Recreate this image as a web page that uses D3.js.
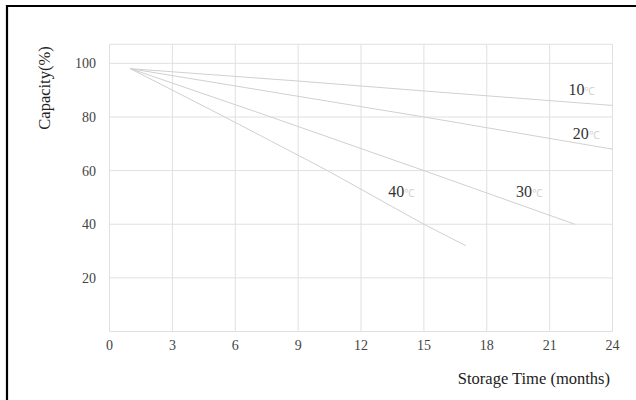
<!DOCTYPE html>
<html><head><meta charset="utf-8">
<script src="https://cdn.jsdelivr.net/npm/d3@7"></script>
<style>body{margin:0;background:#fff}svg{display:block}</style>
</head><body>
<svg id="c" width="636" height="400"></svg>
<script>
const xTicks = [0,3,6,9,12,15,18,21,24];
const yTicks = [20,40,60,80,100];
const seriesNames = ["10","20","30","40"];
const s10 = [[1,98],[9,93.4],[15,89.7],[24,84.3]];
const s20 = [[1,98],[15,80],[24,68]];
const s30 = [[1,98],[7.7,80],[15,60],[22.2,40]];
const s40 = [[1,98],[5.5,80],[10.4,60],[15,40],[17,32]];
const labelPos = [[21.9,88.3],[22.1,71.8],[19.4,50.1],[13.3,50.1]];

const svg = d3.select("#c");
const font = "'Liberation Serif','Times New Roman',serif";
const x = d3.scaleLinear().domain([0,24]).range([109.5,612.5]);
const y = d3.scaleLinear().domain([0,107.1]).range([331.5,44.3]);

// frame
svg.append("line").attr("x1",6).attr("x2",636).attr("y1",6).attr("y2",6).attr("stroke","#000").attr("stroke-width",2.2);
svg.append("line").attr("x1",7).attr("x2",7).attr("y1",5).attr("y2",400).attr("stroke","#000").attr("stroke-width",2.2);

const grid = svg.append("g").attr("stroke","#e0e0e0").attr("stroke-width",1);
xTicks.forEach(t=>grid.append("line").attr("x1",x(t)).attr("x2",x(t)).attr("y1",y(107.1)).attr("y2",y(0)));
[0].concat(yTicks).concat([107.1]).forEach(t=>grid.append("line").attr("x1",x(0)).attr("x2",x(24)).attr("y1",y(t)).attr("y2",y(t)));

const line = d3.line().x(d=>x(d[0])).y(d=>y(d[1]));
[s10,s20,s30,s40].forEach(s=>{
  svg.append("path").datum(s).attr("d",line).attr("fill","none").attr("stroke","#d0d0d0").attr("stroke-width",1);
});

// tick labels
svg.append("g").selectAll("text").data(xTicks).join("text")
  .attr("x",d=>x(d)).attr("y",350).attr("text-anchor","middle")
  .attr("font-family",font).attr("font-size",14).attr("fill","#444").text(d=>d);
svg.append("g").selectAll("text").data(yTicks).join("text")
  .attr("x",96).attr("y",d=>y(d)+5).attr("text-anchor","end")
  .attr("font-family",font).attr("font-size",14).attr("fill","#444").text(d=>d);

// axis titles
svg.append("text").attr("transform","translate(50,88) rotate(-90)").attr("text-anchor","middle")
  .attr("font-family",font).attr("font-size",16.5).attr("fill","#222").text("Capacity(%)");
svg.append("text").attr("x",610).attr("y",384).attr("text-anchor","end")
  .attr("font-family",font).attr("font-size",16.5).attr("fill","#222").text("Storage Time (months)");

// series labels
seriesNames.forEach((n,i)=>{
  const t = svg.append("text").attr("x",x(labelPos[i][0])).attr("y",y(labelPos[i][1]))
    .attr("font-family",font).attr("font-size",16).attr("fill","#333");
  t.append("tspan").text(n);
  t.append("tspan").attr("fill","#d4d4d4").attr("font-size",11).text("℃");
});
</script>
</body></html>
